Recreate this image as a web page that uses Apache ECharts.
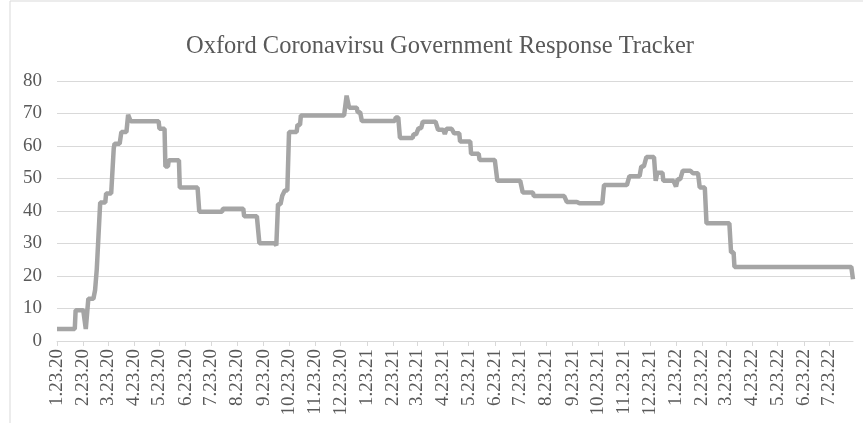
<!DOCTYPE html>
<html><head><meta charset="utf-8">
<script src="https://cdn.jsdelivr.net/npm/echarts@6/dist/echarts.min.js"></script>
<style>html,body{margin:0;padding:0;background:#fff}#c{width:863px;height:423px}</style>
</head><body><div id="c"></div>
<script>
const titleText = 'Oxford Coronavirsu Government Response Tracker';
const startDate = '2020-01-23';
const endDate = '2022-08-20';
// dates where the index value changes (value held until next change)
const changeDates = [
 '2020-01-23','2020-02-14','2020-02-26','2020-02-29','2020-03-08','2020-03-10','2020-03-12','2020-03-14',
 '2020-03-21','2020-03-30','2020-03-31','2020-04-08','2020-04-16','2020-04-19','2020-05-23','2020-05-30',
 '2020-06-03','2020-06-16','2020-07-09','2020-08-06','2020-08-31','2020-09-18','2020-10-08','2020-10-10',
 '2020-10-15','2020-10-18','2020-10-23','2020-11-02','2020-11-06','2020-12-30','2021-01-02','2021-01-12',
 '2021-01-17','2021-02-26','2021-03-03','2021-03-19','2021-03-25','2021-03-30','2021-04-17','2021-04-25',
 '2021-04-27','2021-05-06','2021-05-13','2021-05-26','2021-06-05','2021-06-26','2021-07-26','2021-08-08',
 '2021-09-16','2021-09-30','2021-10-30','2021-11-29','2021-12-13','2021-12-19','2021-12-30','2022-01-01',
 '2022-01-08','2022-01-23','2022-01-25','2022-01-31','2022-02-12','2022-02-20','2022-02-28','2022-03-29',
 '2022-04-02','2022-08-20'
];
const changeValues = [
 3.7, 9.5, 3.7, 13.0, 15.7, 22.2, 32.4, 42.6,
 45.4, 59.3, 60.7, 64.3, 69.6, 67.6, 65.3, 53.7,
 55.6, 47.2, 39.8, 40.7, 38.4, 30.1, 29.4, 42.1,
 44.7, 46.3, 64.3, 66.5, 69.4, 75.5, 71.8, 70.4,
 67.7, 68.8, 62.5, 63.6, 65.5, 67.5, 65.0, 63.7,
 65.3, 63.9, 61.4, 57.6, 55.7, 49.3, 45.7, 44.6,
 42.8, 42.4, 48.0, 50.7, 53.7, 56.6, 49.3, 51.8,
 49.3, 47.5, 49.8, 52.4, 51.6, 47.2, 36.2, 27.3,
 22.8, 19.0
];
const yTicks = {min: 0, max: 80, step: 10};

function parse(s){const p=s.split('-').map(Number);return Date.UTC(p[0],p[1]-1,p[2]);}
const categories = [], values = [], dayOfMonth = [];
let ci = 0;
for (let t = parse(startDate); t <= parse(endDate); t += 86400000) {
  const d = new Date(t);
  while (ci + 1 < changeDates.length && parse(changeDates[ci + 1]) <= t) ci++;
  categories.push((d.getUTCMonth()+1) + '.' + d.getUTCDate() + '.' + String(d.getUTCFullYear()).slice(2));
  dayOfMonth.push(d.getUTCDate());
  values.push(changeValues[ci]);
}
const showIdx = (i) => dayOfMonth[i] === 23;
const txt = '#595959', grid = '#d9d9d9', font = 'Liberation Serif';

const chart = echarts.init(document.getElementById('c'));
chart.setOption({
  animation: false,
  backgroundColor: '#fff',
  title: {text: titleText, left: 435, top: 29, textAlign: 'center',
    textStyle: {fontFamily: font, fontSize: 24.5, fontWeight: 'normal', color: txt}},
  graphic: [{type: 'rect', shape: {x: 10, y: 1, width: 900, height: 440},
    style: {fill: 'none', stroke: grid, lineWidth: 1}, silent: true}],
  grid: {left: 57, right: 10, top: 81, bottom: 82},
  xAxis: {
    type: 'category', data: categories, boundaryGap: false,
    axisLine: {lineStyle: {color: grid, width: 1}},
    axisTick: {show: true, length: 5, interval: showIdx, lineStyle: {color: grid}},
    axisLabel: {interval: showIdx, rotate: 90, margin: 8, color: txt, fontFamily: font, fontSize: 19},
    splitLine: {show: false}
  },
  yAxis: {
    type: 'value', min: yTicks.min, max: yTicks.max, interval: yTicks.step,
    axisLine: {show: false}, axisTick: {show: false},
    axisLabel: {margin: 15, color: txt, fontFamily: font, fontSize: 19},
    splitLine: {lineStyle: {color: grid, width: 1}}
  },
  series: [{type: 'line', data: values, showSymbol: false, symbol: 'none',
    lineStyle: {color: '#a5a5a5', width: 4.5}, silent: true}]
});
</script></body></html>
